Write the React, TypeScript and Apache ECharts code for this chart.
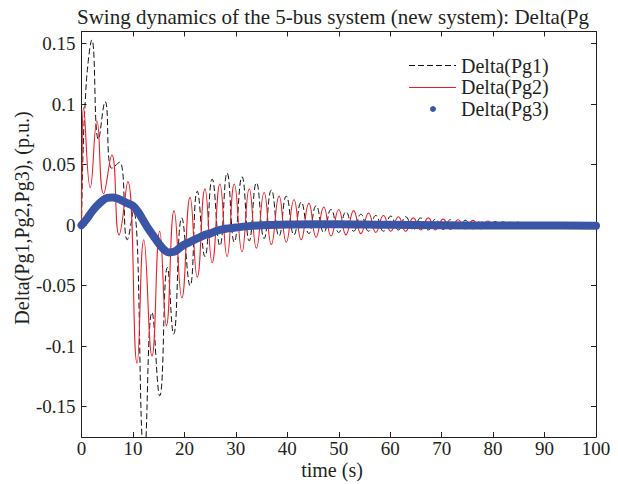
import React, { useEffect, useRef } from "react";
import * as echarts from "echarts";

// ---- Data ----
const pg1Time = [0, 0.3, 0.7, 1.3, 2.0, 3.3, 4.6, 5.9, 7.4, 8.9, 10.1, 12.2, 13.7, 15.2, 16.7, 17.9, 19.5, 21.1, 22.5, 24.0, 25.4, 26.9, 28.3, 29.7, 31.2, 32.6, 34.0, 35.5, 36.9, 38.4, 39.8, 41.3, 42.7, 44.2, 45.6, 47.1, 48.5, 50.0, 51.4, 52.9, 54.3, 55.8, 57.2, 58.7, 60.1, 61.6, 63.0, 64.5, 65.9, 67.4, 68.8, 70.3, 71.7, 73.2, 74.6, 76.1, 77.5, 79.0, 80.4, 81.9, 83.3, 84.8, 86.2, 87.7, 89.1, 90.6, 92.0, 93.5, 94.9, 96.4, 97.8, 99.3, 100];
const pg1Value = [0, 0.06, 0.1, 0.135, 0.153, 0.071, 0.102, 0.047, 0.052, -0.012, 0.012, -0.19, -0.072, -0.141, -0.035, -0.09, 0.006, -0.05, 0.028, -0.026, 0.038, -0.017, 0.043, -0.014, 0.04, -0.013, 0.035, -0.011, 0.029, -0.009, 0.024, -0.008, 0.019, -0.007, 0.016, -0.006, 0.013, -0.006, 0.011, -0.005, 0.009, -0.005, 0.008, -0.005, 0.0075, -0.004, 0.007, -0.004, 0.006, -0.004, 0.005, -0.0035, 0.0045, -0.003, 0.004, -0.003, 0.0035, -0.0025, 0.003, -0.002, 0.0025, -0.002, 0.002, -0.0015, 0.002, -0.0015, 0.0015, -0.001, 0.0012, -0.001, 0.001, -0.0008, 0];

const pg2Time = [0, 0.1, 0.4, 1.7, 3.0, 4.3, 5.9, 7.3, 9.0, 10.8, 12.1, 13.7, 15.2, 16.5, 18.0, 19.5, 21.1, 22.5, 24.0, 25.4, 26.9, 28.3, 29.7, 31.2, 32.6, 34.0, 35.5, 36.9, 38.4, 39.8, 41.3, 42.7, 44.2, 45.6, 47.1, 48.5, 50.0, 51.4, 52.9, 54.3, 55.8, 57.2, 58.7, 60.1, 61.6, 63.0, 64.5, 65.9, 67.4, 68.8, 70.3, 71.7, 73.2, 74.6, 76.1, 77.5, 79.0, 80.4, 81.9, 83.3, 84.8, 86.2, 87.7, 89.1, 90.6, 92.0, 93.5, 94.9, 96.4, 97.8, 99.3, 100];
const pg2Value = [0, 0.05, 0.097, 0.031, 0.086, 0.026, 0.058, -0.008, 0.036, -0.114, -0.012, -0.108, -0.005, -0.083, 0.012, -0.06, 0.023, -0.043, 0.03, -0.031, 0.034, -0.026, 0.034, -0.022, 0.03, -0.019, 0.027, -0.016, 0.024, -0.014, 0.021, -0.012, 0.018, -0.01, 0.015, -0.009, 0.013, -0.008, 0.012, -0.007, 0.01, -0.006, 0.008, -0.005, 0.007, -0.005, 0.006, -0.004, 0.006, -0.004, 0.005, -0.0035, 0.0045, -0.003, 0.004, -0.003, 0.0035, -0.0025, 0.003, -0.002, 0.0025, -0.002, 0.002, -0.0015, 0.002, -0.0015, 0.0015, -0.001, 0.0012, -0.001, 0.001, 0];

const pg3Time = [0, 1, 2, 3, 4, 5, 6, 7, 8, 9, 10, 11, 12, 13, 14, 15, 16, 17, 18, 19, 20, 21, 22, 23, 24, 25, 26, 28, 30, 32, 35, 40, 45, 50, 55, 60, 70, 80, 90, 100];
const pg3Value = [0, 0.005, 0.011, 0.016, 0.02, 0.0225, 0.0228, 0.022, 0.02, 0.018, 0.016, 0.011, 0.004, -0.003, -0.009, -0.015, -0.02, -0.0225, -0.022, -0.019, -0.016, -0.014, -0.012, -0.01, -0.008, -0.007, -0.005, -0.003, -0.002, -0.001, 0, 0.0005, 0.0008, 0.0008, 0.0005, 0.0003, 0, -0.0003, -0.0003, -0.0005];

const yTickValues = [-0.15, -0.1, -0.05, 0, 0.05, 0.1, 0.15];
const seriesNames = ["Delta(Pg1)", "Delta(Pg2)", "Delta(Pg3)"];
const titleText = "Swing dynamics of the 5-bus system (new system): Delta(Pg";
const xName = "time (s)";
const yName = "Delta(Pg1,Pg2,Pg3), (p.u.)";

const FONT = "'Liberation Serif', 'DejaVu Serif', serif";
const INK = "#231f20";
const RED = "#ee1c25";
const BLUE = "#3a55a6";

const zip = (t: number[], v: number[]) => t.map((x, i) => [x, v[i]]);

export default function App() {
  const ref = useRef<HTMLDivElement>(null);
  useEffect(() => {
    if (!ref.current) return;
    const chart = echarts.init(ref.current, undefined, { renderer: "svg" });
    const axisCommon = {
      axisLine: { show: true, onZero: false, lineStyle: { color: INK, width: 1 } },
      splitLine: { show: false },
    };
    const labelStyle = { color: INK, fontFamily: FONT, fontSize: 19, lineHeight: 16 };
    const tick = { show: true, inside: true, length: 5, lineStyle: { color: INK } };
    const legendFont = `20px ${FONT}`;
    chart.setOption({
      animation: false,
      backgroundColor: "#ffffff",
      title: {
        text: titleText,
        left: 328,
        top: 1,
        textAlign: "center",
        textStyle: { fontFamily: FONT, fontSize: 21, fontWeight: "normal", color: INK },
      },
      grid: { left: 81.5, right: 22, top: 31.5, bottom: 47 },
      xAxis: [
        {
          type: "value", min: 0, max: 100, interval: 10, position: "bottom",
          ...axisCommon, axisTick: tick,
          axisLabel: { ...labelStyle, margin: 3 },
        },
        {
          type: "value", min: 0, max: 100, interval: 10, position: "top",
          ...axisCommon, axisTick: tick,
          axisLabel: { show: false },
        },
      ],
      yAxis: [
        {
          type: "value", min: -0.175, max: 0.16, position: "left",
          ...axisCommon,
          axisTick: { ...tick, customValues: yTickValues },
          axisLabel: { ...labelStyle, margin: 6, customValues: yTickValues, formatter: (v: number) => String(Math.round(v * 1000) / 1000) },
        },
        {
          type: "value", min: -0.175, max: 0.16, position: "right",
          ...axisCommon,
          axisTick: { ...tick, customValues: yTickValues },
          axisLabel: { show: false, customValues: yTickValues },
        },
      ],
      series: [
        {
          name: seriesNames[0], type: "line", data: zip(pg1Time, pg1Value), smooth: 0.5,
          showSymbol: false, lineStyle: { color: "#111111", width: 1, type: [6, 3] }, z: 2,
        },
        {
          name: seriesNames[1], type: "line", data: zip(pg2Time, pg2Value), smooth: 0.5,
          showSymbol: false, lineStyle: { color: RED, width: 1.1 }, z: 3,
        },
        {
          name: seriesNames[2], type: "line", data: zip(pg3Time, pg3Value), smooth: 0.4,
          showSymbol: false, lineStyle: { color: BLUE, width: 8, cap: "round", join: "round" }, z: 4,
        },
      ],
      graphic: [
        { type: "line", shape: { x1: 409, y1: 65.5, x2: 456, y2: 65.5 }, style: { stroke: "#111111", lineWidth: 1, lineDash: [6, 3] }, z: 10 },
        { type: "text", x: 461, y: 65.5, style: { text: seriesNames[0], fill: INK, font: legendFont, lineHeight: 20, verticalAlign: "middle", align: "left" }, z: 10 },
        { type: "line", shape: { x1: 409, y1: 87.5, x2: 456, y2: 87.5 }, style: { stroke: RED, lineWidth: 1.1 }, z: 10 },
        { type: "text", x: 461, y: 87, style: { text: seriesNames[1], fill: INK, font: legendFont, lineHeight: 20, verticalAlign: "middle", align: "left" }, z: 10 },
        { type: "circle", shape: { cx: 433, cy: 109, r: 3 }, style: { fill: BLUE }, z: 10 },
        { type: "text", x: 461, y: 108.5, style: { text: seriesNames[2], fill: INK, font: legendFont, lineHeight: 20, verticalAlign: "middle", align: "left" }, z: 10 },
        { type: "text", x: 332, y: 470, style: { text: xName, fill: INK, font: `20px ${FONT}`, lineHeight: 18, verticalAlign: "middle", align: "center" }, z: 10 },
        { type: "text", x: 22, y: 218, rotation: Math.PI / 2, style: { text: yName, fill: INK, font: `20px ${FONT}`, verticalAlign: "middle", align: "center" }, z: 10 },
      ],
    });
    return () => chart.dispose();
  }, []);
  return <div ref={ref} style={{ position: "fixed", left: 0, top: 0, width: 618, height: 484 }} />;
}
